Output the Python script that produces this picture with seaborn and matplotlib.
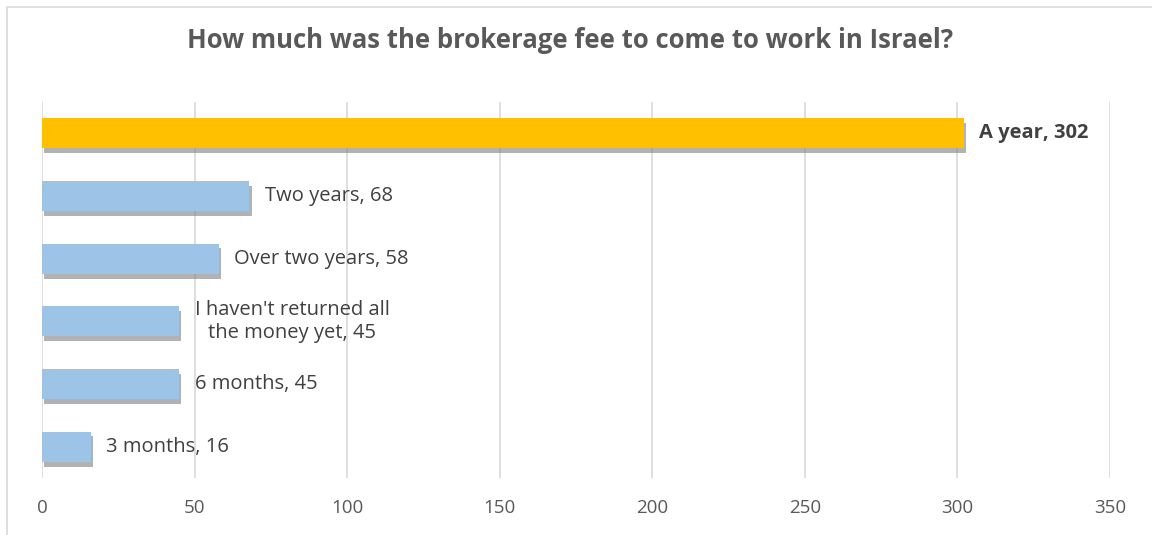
import numpy as np
import pandas as pd
import matplotlib.pyplot as plt
import matplotlib.patheffects as pe
from matplotlib.patches import Rectangle
import seaborn as sns

categories = ["A year", "Two years", "Over two years",
              "I haven't returned all\nthe money yet", "6 months", "3 months"]
values = [302, 68, 58, 45, 45, 16]
colors = ["#FFC000", "#9DC3E6", "#9DC3E6", "#9DC3E6", "#9DC3E6", "#9DC3E6"]

df = pd.DataFrame({"cat": categories, "val": values})

sns.set_theme(style="white")
plt.rcParams["font.family"] = ["Open Sans", "DejaVu Sans"]

fig = plt.figure(figsize=(11.52, 5.35), dpi=100)
ax = fig.add_axes([42 / 1152, 1 - 478 / 535, 1068 / 1152, 376 / 535])

sns.barplot(data=df, y="cat", x="val", hue="cat", palette=colors, saturation=1,
            orient="h", width=0.48, legend=False, ax=ax, zorder=3, linewidth=0)

# soft drop shadow like the office chart
for p in ax.patches:
    p.set_path_effects([pe.SimplePatchShadow(offset=(1.5, -3.5), shadow_rgbFace="#7f7f7f", alpha=0.6),
                        pe.Normal()])

for i, (c, v) in enumerate(zip(categories, values)):
    ax.text(v + 5, i, c + ", " + str(v), va="center", ha="left",
            fontsize=14.5, color="#404040",
            fontweight="bold" if i == 0 else "normal",
            multialignment="center")

ax.set_xlim(0, 350)
ax.set_xticks(np.arange(0, 351, 50))
ax.set_yticks([])
ax.set_xlabel("")
ax.set_ylabel("")
ax.grid(axis="x", color="#d9d9d9", linewidth=1.2, zorder=0)
for s in ax.spines.values():
    s.set_visible(False)
ax.tick_params(axis="x", length=0, pad=15, labelsize=13.5, labelcolor="#595959")

fig.text(0.495, 1 - 40 / 535, "How much was the brokerage fee to come to work in Israel?",
         ha="center", va="center", fontsize=18.5, fontweight="bold", color="#595959")

fig.patches.append(Rectangle((7 / 1152, -0.1), 1.2, 1 - 7 / 535 + 0.1,
                             transform=fig.transFigure, fill=False,
                             edgecolor="#d9d9d9", linewidth=1.2))

fig.savefig("out.png", dpi=100)
